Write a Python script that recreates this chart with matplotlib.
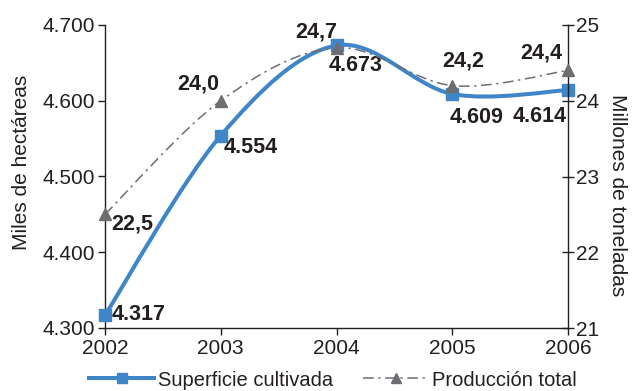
import matplotlib.pyplot as plt
from matplotlib.path import Path
from matplotlib.patches import PathPatch
from matplotlib.lines import Line2D

plt.rcParams['font.family'] = ['Liberation Sans Narrow', 'Liberation Sans', 'DejaVu Sans']

years = [2002, 2003, 2004, 2005, 2006]
superficie = [4317, 4554, 4673, 4609, 4614]        # miles de hectareas
produccion = [22.5, 24.0, 24.7, 24.2, 24.4]        # millones de toneladas
sup_labels = ['4.317', '4.554', '4.673', '4.609', '4.614']
prod_labels = ['22,5', '24,0', '24,7', '24,2', '24,4']
left_ticks = [4300, 4400, 4500, 4600, 4700]
left_ticklabels = ['4.300', '4.400', '4.500', '4.600', '4.700']
right_ticks = [21, 22, 23, 24, 25]

# label offsets in pixels (dx, dy) from each marker
sup_off = [(34, 1), (30, -12), (19, -20), (24, -24), (-28, -26)]
prod_off = [(27, -10), (-22, 17), (-20, 16), (11, 25), (-27, 17)]

BLUE = '#3f86c8'
GREY = '#6d6e71'
INK = '#231f20'
FS = 15


def smooth_path(x, y):
    # excel-like smoothed line: catmull-rom segments drawn as cubic beziers
    pts = list(zip(x, y))
    n = len(pts)
    verts = [pts[0]]
    codes = [Path.MOVETO]
    for i in range(n - 1):
        p0 = pts[i - 1] if i > 0 else pts[i]
        p1 = pts[i]
        p2 = pts[i + 1]
        p3 = pts[i + 2] if i + 2 < n else pts[i + 1]
        c1 = (p1[0] + (p2[0] - p0[0]) / 6, p1[1] + (p2[1] - p0[1]) / 6)
        c2 = (p2[0] - (p3[0] - p1[0]) / 6, p2[1] - (p3[1] - p1[1]) / 6)
        verts += [c1, c2, p2]
        codes += [Path.CURVE4] * 3
    return Path(verts, codes)


fig = plt.figure(figsize=(6.35, 3.91), dpi=100)
ax = fig.add_axes([105 / 635, 63 / 391, 463 / 635, 303 / 391])
ax2 = ax.twinx()

ax.add_patch(PathPatch(smooth_path(years, superficie), fill=False,
                       edgecolor=BLUE, lw=2.9, capstyle='round', zorder=2))
ax.plot(years, superficie, ls='none', marker='s', ms=8.5, color=BLUE,
        clip_on=False, zorder=3)

dash = (0, (7, 3, 1.5, 3))
ax2.add_patch(PathPatch(smooth_path(years, produccion), fill=False,
                        edgecolor=GREY, lw=1.1, linestyle=dash, zorder=2))
ax2.plot(years, produccion, ls='none', marker='^', ms=8.5, color=GREY,
         clip_on=False, zorder=3)

for x, y, t, (dx, dy) in zip(years, superficie, sup_labels, sup_off):
    ax.annotate(t, (x, y), xytext=(dx * 0.72, dy * 0.72), textcoords='offset points',
                ha='center', va='center', fontsize=FS + 0.5, fontweight='bold',
                color=INK, annotation_clip=False)
for x, y, t, (dx, dy) in zip(years, produccion, prod_labels, prod_off):
    ax2.annotate(t, (x, y), xytext=(dx * 0.72, dy * 0.72), textcoords='offset points',
                 ha='center', va='center', fontsize=FS + 0.5, fontweight='bold',
                 color=INK, annotation_clip=False)

ax.set_xlim(2002, 2006)
ax.set_ylim(4300, 4700)
ax2.set_ylim(21, 25)
ax.set_xticks(years)
ax.set_xticklabels([str(y) for y in years])
ax.set_yticks(left_ticks)
ax.set_yticklabels(left_ticklabels)
ax2.set_yticks(right_ticks)

for a in (ax, ax2):
    a.spines['top'].set_visible(False)
    for s in a.spines.values():
        s.set_linewidth(1.0)
        s.set_color(INK)
ax.spines['right'].set_visible(False)
ax2.spines['left'].set_visible(False)
ax2.spines['bottom'].set_visible(False)

ax.tick_params(axis='both', labelsize=FS, colors=INK, length=5, width=1.0, pad=2)
ax.tick_params(axis='x', pad=3)
ax2.tick_params(axis='y', direction='inout', labelsize=FS, colors=INK,
                length=8, width=1.0, pad=2)

fig.text(22 / 635, 1 - 162 / 391, 'Miles de hectáreas', rotation=90,
         ha='center', va='center', fontsize=FS, color=INK)
fig.text(617 / 635, 1 - 195 / 391, 'Millones de toneladas', rotation=270,
         ha='center', va='center', fontsize=FS, color=INK)

handles = [
    Line2D([], [], color=BLUE, lw=2.9, marker='s', ms=7.5),
    Line2D([], [], color=GREY, lw=1.1, ls=dash, marker='^', ms=7.5),
]
fig.legend(handles, ['Superficie cultivada', 'Producción total'],
           loc='center', bbox_to_anchor=(333 / 635, 1 - 380 / 391), ncol=2,
           frameon=False, fontsize=14.5, handlelength=3.2, handletextpad=0.2,
           columnspacing=1.5, borderpad=0, borderaxespad=0,
           labelcolor=INK)

fig.savefig('out.png', dpi=100)
